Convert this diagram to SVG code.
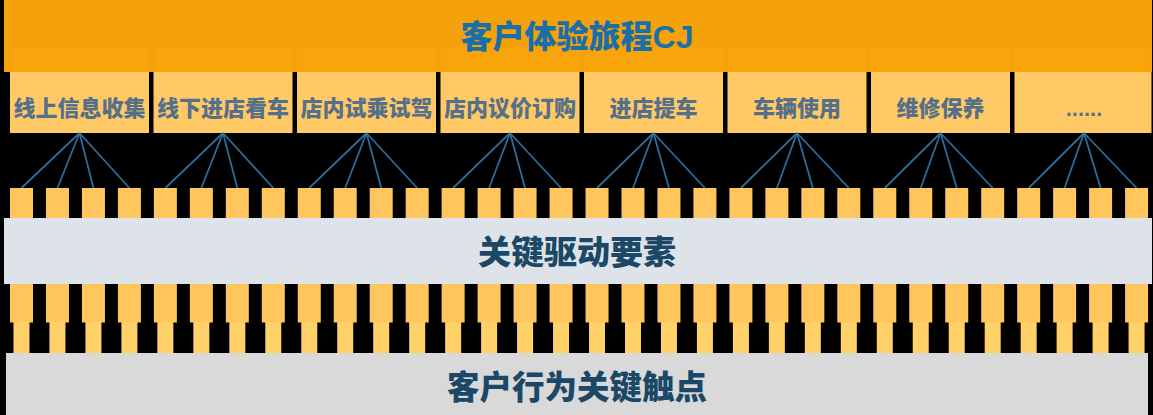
<svg xmlns="http://www.w3.org/2000/svg" xmlns:xlink="http://www.w3.org/1999/xlink" width="1153" height="415" viewBox="0 0 1153 415">
<style>
.stage{fill:#FFCA66}
.stxt{font-family:"Liberation Sans","Noto Sans CJK SC",sans-serif;font-weight:900;font-size:22px;fill:#57708A;text-anchor:middle;dominant-baseline:central}
.big{font-family:"Liberation Sans","Noto Sans CJK SC",sans-serif;font-weight:900;text-anchor:middle;dominant-baseline:central}
.sb{fill:#FFC65E}
.conn line{stroke:#2E6C99;stroke-width:1.8}
</style>
<defs>
<g id="blk"><rect x="0" y="284" width="23" height="38.5" fill="#FFC65E"/><rect x="3.5" y="322" width="16" height="31" fill="#FFD168"/></g>
</defs>
<rect width="1153" height="415" fill="#000"/>
<g id="stages">
<g id="stage1"><rect class="stage" x="10" y="47" width="139" height="86"/><text class="stxt" x="79.5" y="108">线上信息收集</text></g>
<g id="stage2"><rect class="stage" x="153.5" y="47" width="139" height="86"/><text class="stxt" x="223" y="108">线下进店看车</text></g>
<g id="stage3"><rect class="stage" x="297" y="47" width="139" height="86"/><text class="stxt" x="366.5" y="108">店内试乘试驾</text></g>
<g id="stage4"><rect class="stage" x="440.5" y="47" width="139" height="86"/><text class="stxt" x="510" y="108">店内议价订购</text></g>
<g id="stage5"><rect class="stage" x="584" y="47" width="139" height="86"/><text class="stxt" x="653.5" y="108">进店提车</text></g>
<g id="stage6"><rect class="stage" x="727.5" y="47" width="139" height="86"/><text class="stxt" x="797" y="108">车辆使用</text></g>
<g id="stage7"><rect class="stage" x="871" y="47" width="139" height="86"/><text class="stxt" x="940.5" y="108">维修保养</text></g>
<g id="stage8"><rect class="stage" x="1014.5" y="47" width="137" height="86"/><text class="stxt" x="1084" y="108">......</text></g>
</g>
<g id="banner"><rect x="4" y="0" width="1148" height="72" fill="#F9A40A" opacity="0.985"/><text class="big" x="577" y="37" font-size="32" fill="#1A6FA8">客户体验旅程CJ</text></g>
<g id="connectors" class="conn">
<line x1="79.5" y1="133" x2="21.5" y2="188"/><line x1="79.5" y1="133" x2="57.47" y2="188"/><line x1="79.5" y1="133" x2="93.44" y2="188"/><line x1="79.5" y1="133" x2="129.41" y2="188"/>
<line x1="223" y1="133" x2="165.38" y2="188"/><line x1="223" y1="133" x2="201.35" y2="188"/><line x1="223" y1="133" x2="237.32" y2="188"/><line x1="223" y1="133" x2="273.29" y2="188"/>
<line x1="366.5" y1="133" x2="309.26" y2="188"/><line x1="366.5" y1="133" x2="345.23" y2="188"/><line x1="366.5" y1="133" x2="381.2" y2="188"/><line x1="366.5" y1="133" x2="417.17" y2="188"/>
<line x1="510" y1="133" x2="453.14" y2="188"/><line x1="510" y1="133" x2="489.11" y2="188"/><line x1="510" y1="133" x2="525.08" y2="188"/><line x1="510" y1="133" x2="561.05" y2="188"/>
<line x1="653.5" y1="133" x2="597.02" y2="188"/><line x1="653.5" y1="133" x2="632.99" y2="188"/><line x1="653.5" y1="133" x2="668.96" y2="188"/><line x1="653.5" y1="133" x2="704.93" y2="188"/>
<line x1="797" y1="133" x2="740.9" y2="188"/><line x1="797" y1="133" x2="776.87" y2="188"/><line x1="797" y1="133" x2="812.84" y2="188"/><line x1="797" y1="133" x2="848.81" y2="188"/>
<line x1="940.5" y1="133" x2="884.78" y2="188"/><line x1="940.5" y1="133" x2="920.75" y2="188"/><line x1="940.5" y1="133" x2="956.72" y2="188"/><line x1="940.5" y1="133" x2="992.69" y2="188"/>
<line x1="1084" y1="133" x2="1028.66" y2="188"/><line x1="1084" y1="133" x2="1064.63" y2="188"/><line x1="1084" y1="133" x2="1100.6" y2="188"/><line x1="1084" y1="133" x2="1136.57" y2="188"/>
</g>
<g id="drivers">
<rect class="sb" x="10" y="188" width="23" height="31"/><rect class="sb" x="45.97" y="188" width="23" height="31"/><rect class="sb" x="81.94" y="188" width="23" height="31"/><rect class="sb" x="117.91" y="188" width="23" height="31"/>
<rect class="sb" x="153.88" y="188" width="23" height="31"/><rect class="sb" x="189.85" y="188" width="23" height="31"/><rect class="sb" x="225.82" y="188" width="23" height="31"/><rect class="sb" x="261.79" y="188" width="23" height="31"/>
<rect class="sb" x="297.76" y="188" width="23" height="31"/><rect class="sb" x="333.73" y="188" width="23" height="31"/><rect class="sb" x="369.7" y="188" width="23" height="31"/><rect class="sb" x="405.67" y="188" width="23" height="31"/>
<rect class="sb" x="441.64" y="188" width="23" height="31"/><rect class="sb" x="477.61" y="188" width="23" height="31"/><rect class="sb" x="513.58" y="188" width="23" height="31"/><rect class="sb" x="549.55" y="188" width="23" height="31"/>
<rect class="sb" x="585.52" y="188" width="23" height="31"/><rect class="sb" x="621.49" y="188" width="23" height="31"/><rect class="sb" x="657.46" y="188" width="23" height="31"/><rect class="sb" x="693.43" y="188" width="23" height="31"/>
<rect class="sb" x="729.4" y="188" width="23" height="31"/><rect class="sb" x="765.37" y="188" width="23" height="31"/><rect class="sb" x="801.34" y="188" width="23" height="31"/><rect class="sb" x="837.31" y="188" width="23" height="31"/>
<rect class="sb" x="873.28" y="188" width="23" height="31"/><rect class="sb" x="909.25" y="188" width="23" height="31"/><rect class="sb" x="945.22" y="188" width="23" height="31"/><rect class="sb" x="981.19" y="188" width="23" height="31"/>
<rect class="sb" x="1017.16" y="188" width="23" height="31"/><rect class="sb" x="1053.13" y="188" width="23" height="31"/><rect class="sb" x="1089.1" y="188" width="23" height="31"/><rect class="sb" x="1125.07" y="188" width="23" height="31"/>
</g>
<g id="key-drivers"><rect x="4" y="218" width="1148" height="66" fill="#DEE3EA"/><text class="big" x="577" y="252" font-size="33" fill="#1C4868">关键驱动要素</text></g>
<g id="touch-blocks">
<use xlink:href="#blk" x="10"/><use xlink:href="#blk" x="45.97"/><use xlink:href="#blk" x="81.94"/><use xlink:href="#blk" x="117.91"/>
<use xlink:href="#blk" x="153.88"/><use xlink:href="#blk" x="189.85"/><use xlink:href="#blk" x="225.82"/><use xlink:href="#blk" x="261.79"/>
<use xlink:href="#blk" x="297.76"/><use xlink:href="#blk" x="333.73"/><use xlink:href="#blk" x="369.7"/><use xlink:href="#blk" x="405.67"/>
<use xlink:href="#blk" x="441.64"/><use xlink:href="#blk" x="477.61"/><use xlink:href="#blk" x="513.58"/><use xlink:href="#blk" x="549.55"/>
<use xlink:href="#blk" x="585.52"/><use xlink:href="#blk" x="621.49"/><use xlink:href="#blk" x="657.46"/><use xlink:href="#blk" x="693.43"/>
<use xlink:href="#blk" x="729.4"/><use xlink:href="#blk" x="765.37"/><use xlink:href="#blk" x="801.34"/><use xlink:href="#blk" x="837.31"/>
<use xlink:href="#blk" x="873.28"/><use xlink:href="#blk" x="909.25"/><use xlink:href="#blk" x="945.22"/><use xlink:href="#blk" x="981.19"/>
<use xlink:href="#blk" x="1017.16"/><use xlink:href="#blk" x="1053.13"/><use xlink:href="#blk" x="1089.1"/><use xlink:href="#blk" x="1125.07"/>
</g>
<g id="touchpoints"><rect x="6" y="353" width="1142" height="62" fill="#D9D9D9"/><text class="big" x="577" y="388" font-size="32.5" fill="#1C4868">客户行为关键触点</text></g>
</svg>
